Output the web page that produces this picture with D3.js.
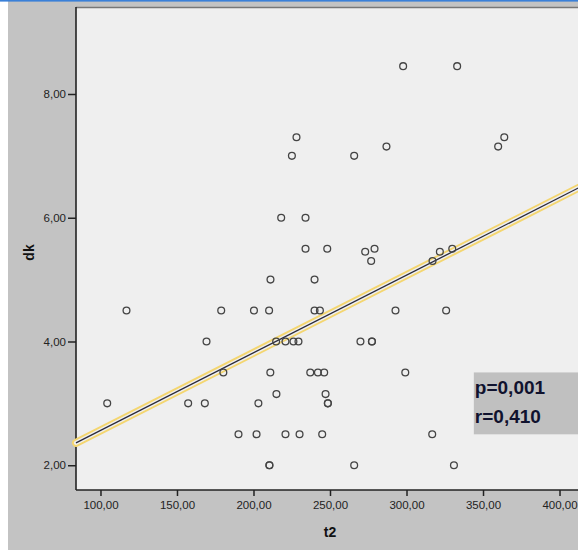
<!DOCTYPE html>
<html>
<head>
<meta charset="utf-8">
<script src="https://cdn.jsdelivr.net/npm/d3@7"></script>
<style>
  html, body { margin: 0; padding: 0; background: #fff; }
  #chart { width: 578px; height: 550px; overflow: hidden; }
  .tick text { font-family: "Liberation Sans", Arial, sans-serif; font-size: 11.5px; fill: #222; }
</style>
</head>
<body>
<div id="chart"></div>
<script>
/* ---------- data ---------- */
const t2 = [
  104.4, 117.0, 157.3, 168.2, 169.3, 178.9, 180.3, 190.2, 200.3, 202.0,
  203.2, 210.2, 210.4, 210.4, 211.0, 211.1, 215.0, 214.8, 218.1, 220.9,
  220.9, 225.1, 226.1, 228.1, 229.4, 230.1, 234.0, 234.0, 237.1, 239.9,
  239.9, 242.1, 243.4, 244.9, 246.2, 247.1, 248.2, 248.6, 248.6, 265.8,
  265.8, 269.9, 273.0, 276.9, 277.4, 277.4, 279.1, 286.9, 292.8, 297.8,
  299.2, 316.8, 317.0, 321.8, 325.9, 329.9, 331.0, 333.1, 359.9, 363.9
];
const dk = [
  3.0, 4.5, 3.0, 3.0, 4.0, 4.5, 3.5, 2.5, 4.5, 2.5,
  3.0, 4.5, 2.0, 2.0, 3.5, 5.0, 3.15, 4.0, 6.0, 4.0,
  2.5, 7.0, 4.0, 7.3, 4.0, 2.5, 6.0, 5.5, 3.5, 5.0,
  4.5, 3.5, 4.5, 2.5, 3.5, 3.15, 5.5, 3.0, 3.0, 7.0,
  2.0, 4.0, 5.45, 5.3, 4.0, 4.0, 5.5, 7.15, 4.5, 8.45,
  3.5, 2.5, 5.3, 5.45, 4.5, 5.5, 2.0, 8.45, 7.15, 7.3
];
const xTicks = [100, 150, 200, 250, 300, 350, 400];
const yTicks = [2, 4, 6, 8];
const xDomain = [84, 416];
const yDomain = [1.6, 9.406];
// linear fit line (dk = a + b * t2) and its annotation
const fitIntercept = 1.307;
const fitSlope = 0.01255;
const statLabels = ["p=0,001", "r=0,410"];

/* ---------- layout ---------- */
const W = 578, H = 550;
const plot = { left: 76, right: 584, top: 7, bottom: 490 };
const commaFmt = d => d3.format(".2f")(d).replace(".", ",");

const svg = d3.select("#chart").append("svg")
  .attr("width", W)
  .attr("height", H);

// outer frame
svg.append("rect").attr("width", W).attr("height", H).attr("fill", "#fff");
svg.append("rect").attr("x", 8).attr("y", 0).attr("width", W - 8).attr("height", H).attr("fill", "#c3c3c3");
svg.append("rect").attr("x", 0).attr("y", 0).attr("width", W).attr("height", 1.6).attr("fill", "#3a80d8");

// plot background
svg.append("rect")
  .attr("x", plot.left).attr("y", plot.top)
  .attr("width", plot.right - plot.left).attr("height", plot.bottom - plot.top)
  .attr("fill", "#efefef");

const x = d3.scaleLinear().domain(xDomain).range([plot.left, plot.right]);
const y = d3.scaleLinear().domain(yDomain).range([plot.bottom, plot.top]);

// frame lines
svg.append("line")
  .attr("x1", plot.left).attr("x2", plot.right).attr("y1", plot.top + 0.5).attr("y2", plot.top + 0.5)
  .attr("stroke", "#777").attr("stroke-width", 1.5);
svg.append("line")
  .attr("x1", plot.left).attr("x2", plot.left).attr("y1", plot.top).attr("y2", plot.bottom)
  .attr("stroke", "#222").attr("stroke-width", 1.6);
svg.append("line")
  .attr("x1", plot.left).attr("x2", plot.right).attr("y1", plot.bottom).attr("y2", plot.bottom)
  .attr("stroke", "#222").attr("stroke-width", 1.6);

// X Axis
svg.append("g")
  .attr("transform", `translate(0,${plot.bottom})`)
  .call(d3.axisBottom(x).tickValues(xTicks).tickFormat(commaFmt).tickSize(6).tickPadding(5))
  .call(g => g.select(".domain").remove())
  .call(g => g.selectAll(".tick line").attr("stroke", "#222").attr("stroke-width", 1.5));

// Y Axis
svg.append("g")
  .attr("transform", `translate(${plot.left},0)`)
  .call(d3.axisLeft(y).tickValues(yTicks).tickFormat(commaFmt).tickSize(8).tickPadding(2))
  .call(g => g.select(".domain").remove())
  .call(g => g.selectAll(".tick line").attr("stroke", "#222").attr("stroke-width", 1.5));

// axis titles
svg.append("text")
  .attr("x", 330).attr("y", 537)
  .attr("text-anchor", "middle")
  .text("t2")
  .style("font-family", "'Liberation Sans', Arial, sans-serif")
  .style("font-size", "14px").style("font-weight", "700").style("fill", "#111");

svg.append("text")
  .attr("transform", `translate(34,${(plot.top + plot.bottom) / 2 + 4}) rotate(-90)`)
  .attr("text-anchor", "middle")
  .text("dk")
  .style("font-family", "'Liberation Sans', Arial, sans-serif")
  .style("font-size", "14px").style("font-weight", "700").style("fill", "#111");

// fit line (selected look: yellow halo + dark core)
const fitLine = d3.line()
  .x(d => x(d))
  .y(d => y(fitIntercept + fitSlope * d));
const fitPath = fitLine(xDomain);

svg.append("path").attr("d", fitPath)
  .attr("fill", "none").attr("stroke", "#f4d670").attr("stroke-width", 8).attr("stroke-linecap", "round");
svg.append("path").attr("d", fitPath)
  .attr("fill", "none").attr("stroke", "#efefef").attr("stroke-width", 4.2).attr("stroke-linecap", "round");
svg.append("path").attr("d", fitPath)
  .attr("fill", "none").attr("stroke", "#2a2a3a").attr("stroke-width", 1.3);

// Points
svg.append("g")
  .selectAll("circle")
  .data(d3.range(t2.length))
  .enter().append("circle")
  .attr("cx", i => x(t2[i]))
  .attr("cy", i => y(dk[i]))
  .attr("r", 3.4)
  .attr("fill", "none")
  .attr("stroke", "#444")
  .attr("stroke-width", 1.3);

// stats box
const box = svg.append("g");
box.append("rect")
  .attr("x", x(344)).attr("y", y(3.5))
  .attr("width", plot.right - x(344)).attr("height", y(2.5) - y(3.5))
  .attr("fill", "#c0c0c0");
box.selectAll("text")
  .data(statLabels)
  .enter().append("text")
  .attr("x", x(344) + 1)
  .attr("y", (d, i) => y(3.5) + 22 + i * 29)
  .text(d => d)
  .style("font-family", "'Liberation Sans', Arial, sans-serif")
  .style("font-size", "19px")
  .style("font-weight", "700")
  .style("fill", "#10122e");
</script>
</body>
</html>
